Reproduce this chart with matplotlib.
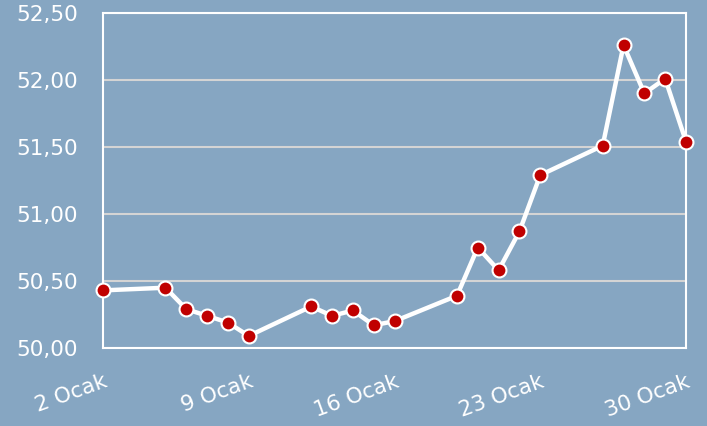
import matplotlib
matplotlib.use("Agg")
import matplotlib.pyplot as plt
import matplotlib.ticker as mticker
import numpy as np

days = [2, 5, 6, 7, 8, 9, 12, 13, 14, 15, 16, 19, 20, 21, 22, 23, 26, 27, 28, 29, 30]
values = [50.43, 50.45, 50.29, 50.24, 50.19, 50.09, 50.31, 50.24, 50.28, 50.17, 50.20,
          50.39, 50.75, 50.58, 50.87, 51.29, 51.51, 52.26, 51.90, 52.01, 51.54]
tick_days = [2, 9, 16, 23, 30]
tick_labels = ["2 Ocak", "9 Ocak", "16 Ocak", "23 Ocak", "30 Ocak"]
y_ticks = [50.0, 50.5, 51.0, 51.5, 52.0, 52.5]

bg = "#86a6c2"
plt.rcParams['font.family'] = ['DejaVu Sans']

fig = plt.figure(figsize=(7.07, 4.26), dpi=100, facecolor=bg)
ax = fig.add_axes([103/707, 1-348/426, (686-103)/707, (348-13)/426])
ax.set_facecolor(bg)

ax.plot(days, values, color="white", lw=3.2, zorder=3,
        marker="o", markersize=10, markerfacecolor="#c00000",
        markeredgecolor="white", markeredgewidth=1.5, clip_on=False)

ax.set_xlim(2, 30)
ax.set_ylim(50, 52.5)
ax.set_yticks(y_ticks)
ax.yaxis.set_major_formatter(mticker.FuncFormatter(lambda v, p: f"{v:.2f}".replace(".", ",")))
ax.set_xticks(tick_days)
ax.set_xticklabels(tick_labels, rotation=20, ha="right", rotation_mode="anchor")
ax.grid(axis="y", color="#d4d4d4", lw=1.5, zorder=1)
ax.tick_params(axis="both", length=0, colors="white", labelsize=15.5)
ax.tick_params(axis="y", pad=18)
ax.tick_params(axis="x", pad=17)
for s in ax.spines.values():
    s.set_color("white")
    s.set_linewidth(1.5)

fig.savefig("out.png", dpi=100, facecolor=bg)
